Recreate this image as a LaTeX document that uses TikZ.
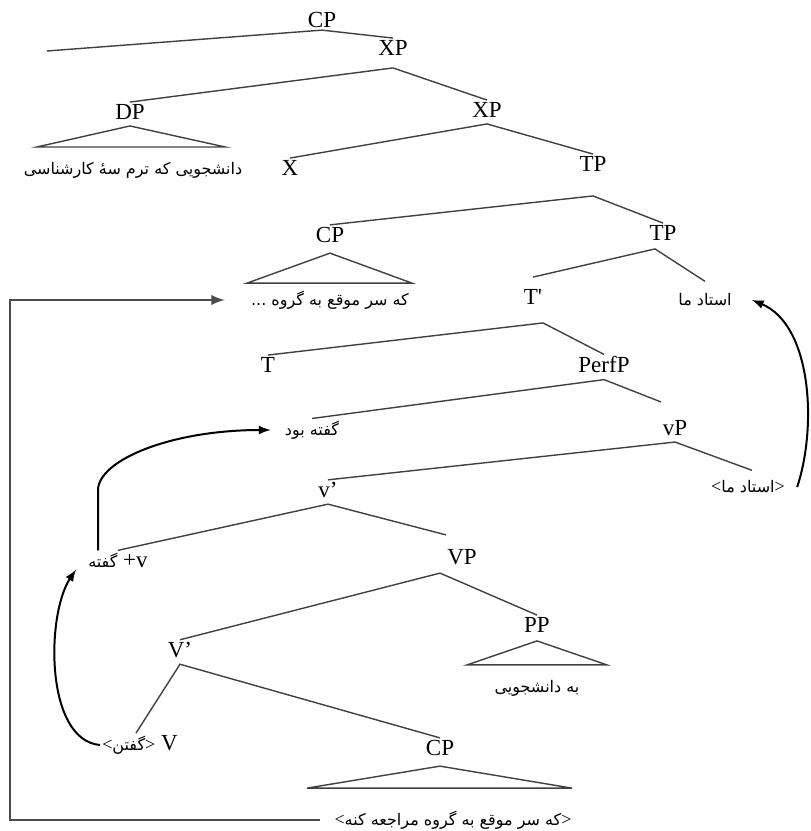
\documentclass[tikz,border=0pt]{standalone}
\usepackage{fontspec}
\setmainfont{Liberation Serif}
\newfontfamily\fa[Script=Arabic]{DejaVu Sans}
\TeXXeTstate=1
\usepackage{tikz}

\newcommand{\pers}[1]{{\fa\fontsize{8}{10}\selectfont\beginR #1\endR}}
\newcommand{\abr}[1]{{\fontsize{9}{10}\selectfont #1}}

\begin{document}
\begin{tikzpicture}[x=0.5pt, y=-0.5pt,
    lab/.style={font=\fontsize{11.5}{13}\selectfont, inner sep=1pt},
    br/.style={line width=0.7pt, black!75},
    mv/.style={->, >=latex, line width=1pt},
    bigmv/.style={->, >=latex, line width=1.3pt, black!70}]
    \useasboundingbox (0,0) rectangle (810,831);

    % labels of the tree
    \node[lab] (cpa) at (322,20) {CP};
    \node[lab] (xpa) at (393,48) {XP};
    \node[lab] (dpa) at (130,112) {DP};
    \node[lab] (xpb) at (487,110) {XP};
    \node[lab] (xh) at (290,168) {X};
    \node[lab] (tpa) at (593,164) {TP};
    \node[lab] (cpb) at (330,235) {CP};
    \node[lab] (tpb) at (663,233) {TP};
    \node[lab] (tbar) at (533,297) {T\textquotesingle};
    \node[lab] (ustad) at (705,300) {\pers{استاد ما}};
    \node[lab] (t) at (268,365) {T};
    \node[lab] (perfp) at (604,365) {PerfP};
    \node[lab] (gb) at (312,430) {\pers{گفته بود}};
    \node[lab] (vp) at (675,428) {vP};
    \node[lab] (ustadt) at (748,487) {\abr{<}\pers{استاد ما}\abr{>}};
    \node[lab] (vbar) at (328,490) {v'};
    \node[lab] (vgofte) at (118,560) {\pers{گفته} +v};
    \node[lab] (vvp) at (462,557) {VP};
    \node[lab] (pp) at (537,625) {PP};
    \node[lab] (vvbar) at (180,650) {V'};
    \node[lab] (vnode) at (140,745) {\abr{<}\pers{گفتن}\abr{>} V};
    \node[lab] (cpc) at (440,748) {CP};

    % texts under the triangles
    \node[lab] (dptxt) at (133,170) {\pers{دانشجویی که ترم سهٔ کارشناسی}};
    \node[lab] (cpbtxt) at (330,300) {\pers{که سر موقع به گروه ...}};
    \node[lab] (pptxt) at (537,688) {\pers{به دانشجویی}};
    \node[lab] (cpctxt) at (453,820) {\abr{<}\pers{که سر موقع به گروه مراجعه کنه}\abr{>}};

    \coordinate (cpaL) at (47,51);
    \coordinate (lft) at (10,0);

    % branches
    \draw[br] (cpaL) -- (cpa.south) -- (xpa.north);
    \draw[br] (dpa.north) -- ([yshift=-5pt]xpa.south) -- (xpb.north);
    \draw[br] (xh.north) -- ([yshift=-2pt]xpb.south) -- (tpa.north);
    \draw[br] (cpb.north) -- ([yshift=-11pt]tpa.south) -- (tpb.north);
    \draw[br] ([yshift=5pt]tbar.north) -- ([yshift=-3pt,xshift=-4pt]tpb.south) -- ([yshift=5pt]ustad.north);
    \draw[br] (t.north) -- ([yshift=-8pt,xshift=5pt]tbar.south) -- (perfp.north);
    \draw[br] (gb.north) -- ([yshift=-2pt]perfp.south) -- ([yshift=8pt,xshift=-7pt]vp.north);
    \draw[br] (vbar.north) -- ([yshift=-2pt]vp.south) -- ([yshift=4pt,xshift=2pt]ustadt.north);
    \draw[br] (vgofte.north) -- ([yshift=-2pt]vbar.south) -- ([yshift=6pt,xshift=-8pt]vvp.north);
    \draw[br] (vvbar.north) -- ([yshift=-3pt,xshift=-11pt]vvp.south) -- (pp.north);
    \draw[br] ([xshift=-2pt]vnode.north) -- ([yshift=-2pt]vvbar.south) -- (cpc.north);

    % triangles
    \draw[br] ([yshift=-2pt]dpa.south) -- ++(-93,21) -- ++(188,0) -- cycle;
    \draw[br] ([yshift=-4pt]cpb.south) -- ++(-83,30) -- ++(165,0) -- cycle;
    \draw[br] ([yshift=-3pt]pp.south) -- ++(-70,24) -- ++(140,0) -- cycle;
    \draw[br] ([yshift=-4pt]cpc.south) -- ++(-133,22) -- ++(265,0) -- cycle;

    % movement arrows
    \draw[bigmv] ([xshift=-6pt]cpctxt.west) -- (cpctxt.west -| lft) |- ([xshift=-12pt]cpbtxt.west);
    \draw[mv] (vnode.west) .. controls +(-55,-5) and +(-30,45) .. ([xshift=-5pt]vgofte.south west);
    \draw[mv] ([xshift=-10pt]vgofte.north) -- ++(0,-60) .. controls +(0,-30) and +(-100,0) .. ([xshift=-6pt]gb.west);
    \draw[mv] ([xshift=5pt]ustadt.east) .. controls +(20,-60) and +(60,25) .. ([xshift=9pt]ustad.east);
\end{tikzpicture}
\end{document}
